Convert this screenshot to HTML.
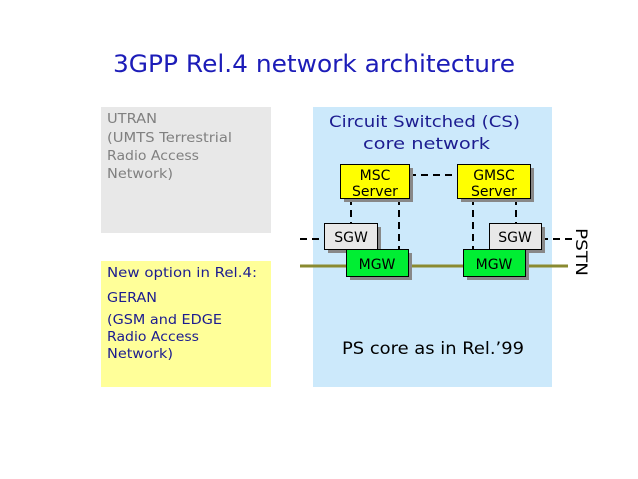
<!DOCTYPE html>
<html><head><meta charset="utf-8"><style>html,body{margin:0;padding:0;background:#fff}svg{display:block}</style></head>
<body>
<svg width="638" height="479" viewBox="0 0 638 479" xmlns="http://www.w3.org/2000/svg" font-family="DejaVu Sans, Liberation Sans, sans-serif">
<rect width="638" height="479" fill="#fff"/>
<text x="113" y="72" font-size="24" fill="#1c1cb8" textLength="402" lengthAdjust="spacingAndGlyphs">3GPP Rel.4 network architecture</text>
<rect x="101" y="107" width="170" height="126" fill="#e8e8e8"/>
<g font-size="13" fill="#808080">
<text x="107" y="123" textLength="50" lengthAdjust="spacingAndGlyphs">UTRAN</text>
<text x="107" y="142" textLength="125" lengthAdjust="spacingAndGlyphs">(UMTS Terrestrial</text>
<text x="107" y="160" textLength="92" lengthAdjust="spacingAndGlyphs">Radio Access</text>
<text x="107" y="178" textLength="66" lengthAdjust="spacingAndGlyphs">Network)</text>
</g>
<rect x="101" y="261" width="170" height="126" fill="#ffff99"/>
<g font-size="13" fill="#1c1c90">
<text x="107" y="277" textLength="150" lengthAdjust="spacingAndGlyphs">New option in Rel.4:</text>
<text x="107" y="302" textLength="50" lengthAdjust="spacingAndGlyphs">GERAN</text>
<text x="107" y="324" textLength="115" lengthAdjust="spacingAndGlyphs">(GSM and EDGE</text>
<text x="107" y="341" textLength="92" lengthAdjust="spacingAndGlyphs">Radio Access</text>
<text x="107" y="358" textLength="66" lengthAdjust="spacingAndGlyphs">Network)</text>
</g>
<rect x="313" y="107" width="239" height="280" fill="#cce9fb"/>
<g font-size="16" fill="#1c1c90">
<text x="329" y="127" textLength="191" lengthAdjust="spacingAndGlyphs">Circuit Switched (CS)</text>
<text x="363" y="149" textLength="127" lengthAdjust="spacingAndGlyphs">core network</text>
</g>
<text x="342" y="354" font-size="17" fill="#000" textLength="182" lengthAdjust="spacingAndGlyphs">PS core as in Rel.’99</text>
<g stroke="#000" stroke-width="2" stroke-dasharray="7,5" fill="none">
<line x1="409" y1="175" x2="457" y2="175"/>
<line x1="351" y1="198" x2="351" y2="223"/>
<line x1="399" y1="198" x2="399" y2="249"/>
<line x1="473" y1="198" x2="473" y2="249"/>
<line x1="516" y1="198" x2="516" y2="223"/>
<line x1="300" y1="239" x2="324" y2="239"/>
<line x1="541" y1="239" x2="577" y2="239"/>
</g>
<line x1="300" y1="266" x2="568" y2="266" stroke="#8a8a30" stroke-width="3"/>
<g fill="#888">
<rect x="344" y="168" width="69" height="34"/>
<rect x="461" y="168" width="73" height="34"/>
<rect x="328" y="227" width="53" height="26"/>
<rect x="493" y="227" width="52" height="26"/>
<rect x="350" y="253" width="62" height="27"/>
<rect x="467" y="253" width="62" height="27"/>
</g>
<g stroke="#000" stroke-width="1">
<rect x="340.5" y="164.5" width="69" height="34" fill="#ffff00"/>
<rect x="457.5" y="164.5" width="73" height="34" fill="#ffff00"/>
<rect x="324.5" y="223.5" width="53" height="26" fill="#e8e8e8"/>
<rect x="489.5" y="223.5" width="52" height="26" fill="#e8e8e8"/>
<rect x="346.5" y="249.5" width="62" height="27" fill="#00ee33"/>
<rect x="463.5" y="249.5" width="62" height="27" fill="#00ee33"/>
</g>
<g font-size="14" fill="#000" text-anchor="middle">
<text x="375" y="180">MSC</text><text x="375" y="196">Server</text>
<text x="494" y="180">GMSC</text><text x="494" y="196">Server</text>
<text x="351" y="242">SGW</text><text x="515" y="242">SGW</text>
<text x="377" y="269">MGW</text><text x="494" y="269">MGW</text>
</g>
<text transform="translate(576,228) rotate(90)" font-size="16" fill="#000" textLength="48" lengthAdjust="spacingAndGlyphs">PSTN</text>
</svg>
</body></html>
